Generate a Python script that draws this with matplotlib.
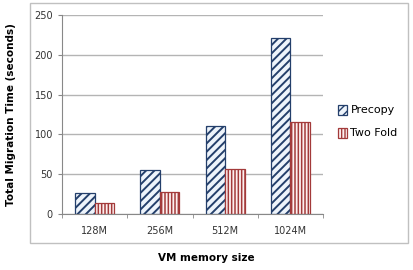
import numpy as np
import matplotlib.pyplot as plt
from matplotlib.patches import Rectangle

categories = ["128M", "256M", "512M", "1024M"]
precopy = [27, 55, 110, 221]
two_fold = [14, 28, 57, 115]

fig = plt.figure(figsize=(4.13, 2.70), dpi=100)
fig.patches.append(Rectangle((30 / 413, 1 - 243 / 270), 378 / 413, 240 / 270,
                             transform=fig.transFigure, fill=False,
                             edgecolor="#c0c0c0", linewidth=1.0))
ax = fig.add_axes([62 / 413, 1 - 214 / 270, 261 / 413, 199 / 270])

x = np.arange(len(categories))
w = 0.3
b1 = ax.bar(x - w / 2, precopy, w, facecolor="#eef4fb", edgecolor="#243f6b",
            hatch="////", linewidth=0.9, label="Precopy")
b2 = ax.bar(x + w / 2, two_fold, w, facecolor="#fdf0f0", edgecolor="#a33a3a",
            hatch="|||||", linewidth=0.9, label="Two Fold")
for p in b1:
    p.set_hatch_linewidth(1.4)
for p in b2:
    p.set_hatch_linewidth(1.1)

ax.set_xlim(-0.5, 3.5)
ax.set_ylim(0, 250)
ax.set_yticks([0, 50, 100, 150, 200, 250])
ax.set_xticks(x)
ax.set_xticklabels(categories)
ax.set_xticks(np.arange(-0.5, 4.0, 1.0), minor=True)
ax.tick_params(axis="x", which="major", length=0, labelsize=7, colors="#333333", pad=9)
ax.tick_params(axis="x", which="minor", length=3, color="#888888")
ax.tick_params(axis="y", length=3, color="#888888", labelsize=7, labelcolor="#333333")
ax.grid(axis="y", color="#b4b4b4", linewidth=1.0)
ax.set_axisbelow(True)
for s in ["top", "right"]:
    ax.spines[s].set_visible(False)
ax.spines["left"].set_color("#888888")
ax.spines["bottom"].set_color("#888888")

ax.set_ylabel("Total Migration Time (seconds)", fontsize=7.5, fontweight="bold", labelpad=13)
fig.text(0.5, 1 - 258 / 270, "VM memory size", fontsize=7.5, fontweight="bold",
         ha="center", va="center")

ax.legend(loc="center left", bbox_to_anchor=(1.02, 0.465), frameon=False,
          fontsize=8, handlelength=0.8, handleheight=1.0, handletextpad=0.3,
          labelspacing=1.1)

fig.savefig("out.png", dpi=100)
